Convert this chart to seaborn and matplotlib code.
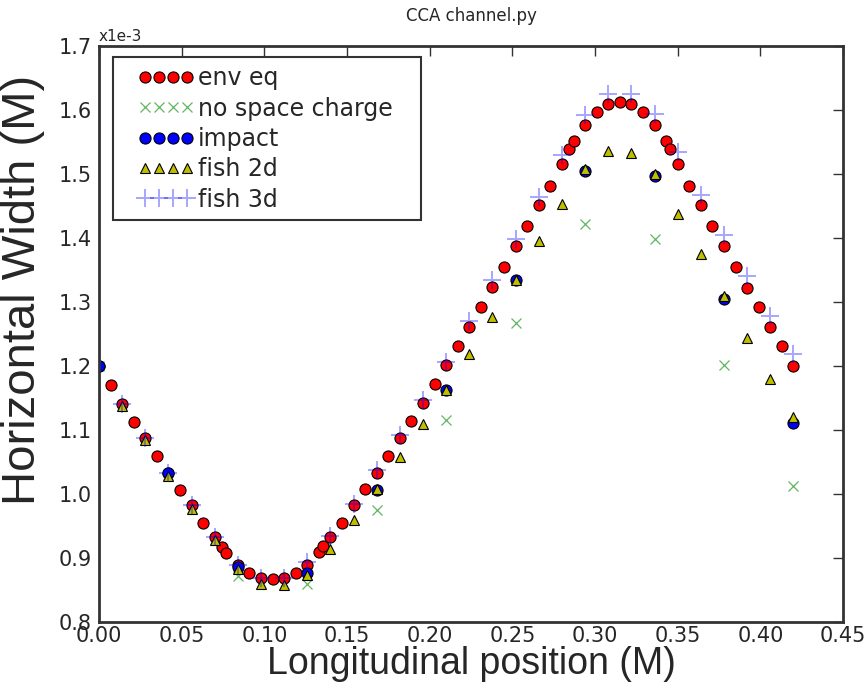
import numpy as np
import pandas as pd
import matplotlib
matplotlib.use("Agg")
import matplotlib.pyplot as plt
from matplotlib import font_manager
from matplotlib.patches import Rectangle
import seaborn as sns

# env eq (fine sampling), widths in units of 1e-3 m
env_z = [0.000, 0.007, 0.014, 0.021, 0.028, 0.035, 0.042, 0.049, 0.056, 0.063,
         0.070, 0.0746, 0.0768, 0.084, 0.091, 0.098, 0.105, 0.112, 0.119, 0.126,
         0.1333, 0.1357, 0.140, 0.147, 0.154, 0.161, 0.168, 0.175, 0.182, 0.189,
         0.196, 0.203, 0.210, 0.217, 0.224, 0.231, 0.238, 0.245, 0.252, 0.259,
         0.266, 0.273, 0.280, 0.2845, 0.2873, 0.294, 0.301, 0.308, 0.315, 0.322,
         0.329, 0.336, 0.343, 0.3455, 0.350, 0.357, 0.364, 0.371, 0.378, 0.385,
         0.392, 0.399, 0.406, 0.413, 0.420]
env_w = [1.200, 1.171, 1.141, 1.113, 1.0875, 1.059, 1.032, 1.006, 0.982, 0.955,
         0.933, 0.917, 0.908, 0.889, 0.876, 0.869, 0.867, 0.869, 0.876, 0.889,
         0.909, 0.918, 0.933, 0.955, 0.982, 1.007, 1.033, 1.059, 1.088, 1.114,
         1.142, 1.1725, 1.201, 1.231, 1.261, 1.292, 1.323, 1.355, 1.387, 1.418,
         1.451, 1.482, 1.516, 1.539, 1.551, 1.577, 1.597, 1.609, 1.6125, 1.609,
         1.597, 1.577, 1.551, 1.539, 1.516, 1.482, 1.451, 1.418, 1.387, 1.355,
         1.3225, 1.292, 1.261, 1.231, 1.200]

# no space charge and impact (coarse sampling)
coarse_z = [0.000, 0.042, 0.084, 0.126, 0.168, 0.210, 0.252, 0.294, 0.336, 0.378, 0.420]
nosc_w = [1.200, 1.030, 0.872, 0.859, 0.9756, 1.1163, 1.2672, 1.4214, 1.399, 1.2011, 1.012]
impact_w = [1.200, 1.033, 0.886, 0.8766, 1.006, 1.162, 1.334, 1.505, 1.4964, 1.3053, 1.1109]

# fish 2d / fish 3d
fish_z = [0.014, 0.028, 0.042, 0.056, 0.070, 0.084, 0.098, 0.112, 0.126, 0.140,
          0.154, 0.168, 0.182, 0.196, 0.210, 0.224, 0.238, 0.252, 0.266, 0.280,
          0.294, 0.308, 0.322, 0.336, 0.350, 0.364, 0.378, 0.392, 0.406, 0.420]
fish2d_w = [1.1375, 1.084, 1.0277, 0.976, 0.9277, 0.882, 0.859, 0.857, 0.873, 0.9147,
            0.960, 1.0073, 1.0578, 1.110, 1.1631, 1.2183, 1.2766, 1.335, 1.395, 1.4532,
            1.508, 1.5355, 1.5328, 1.500, 1.4381, 1.375, 1.310, 1.2444, 1.1803, 1.1203]
fish3d_w = [1.141, 1.088, 1.032, 0.982, 0.933, 0.889, 0.869, 0.869, 0.893, 0.935,
            0.985, 1.037, 1.092, 1.147, 1.206, 1.270, 1.334, 1.399, 1.464, 1.529,
            1.592, 1.6245, 1.6245, 1.594, 1.534, 1.4667, 1.404, 1.340, 1.278, 1.218]


def pick_font(names, fallback="DejaVu Sans"):
    have = {f.name for f in font_manager.fontManager.ttflist}
    for n in names:
        if n in have:
            return n
    return fallback


def main():
    sns.set_style("white")
    plt.rcParams["font.family"] = ["DejaVu Sans"]
    label_font = pick_font(["Liberation Sans", "Arial"])
    narrow_font = pick_font(["Liberation Sans Narrow", "DejaVu Sans"])

    fig = plt.figure(figsize=(8.67, 6.99), dpi=100)
    ax = fig.add_axes([0.1142, 0.1102, 0.8581, 0.8240])

    series = [
        (env_z, env_w, "env eq", dict(marker="o", color="r", markersize=8,
                                      markeredgecolor="black", markeredgewidth=0.8)),
        (coarse_z, nosc_w, "no space charge", dict(marker="x", color="g", markersize=7,
                                                    markeredgecolor="#2e9e2e",
                                                    markeredgewidth=0.9, alpha=0.75)),
        (coarse_z, impact_w, "impact", dict(marker="o", color="b", markersize=8,
                                            markeredgecolor="black", markeredgewidth=0.8)),
        (fish_z, fish2d_w, "fish 2d", dict(marker="^", color="y", markersize=7,
                                           markeredgecolor="black", markeredgewidth=0.8)),
        (fish_z, fish3d_w, "fish 3d", dict(marker="+", color="b", markersize=13,
                                           markeredgecolor="b",
                                           markeredgewidth=1.4, alpha=0.35)),
    ]
    for z, w, name, style in series:
        df = pd.DataFrame({"z": z, "w": w})
        sns.lineplot(data=df, x="z", y="w", estimator=None, sort=False,
                     linestyle="none", label=name, ax=ax, **style)

    ax.set_xlim(0, 0.45)
    ax.set_ylim(0.8, 1.7)
    ax.set_xticks(np.arange(0, 0.451, 0.05))
    ax.set_xticklabels(["%.2f" % v for v in np.arange(0, 0.451, 0.05)],
                       fontsize=15, family=narrow_font)
    ax.set_yticks(np.arange(0.8, 1.701, 0.1))
    ax.set_yticklabels(["%.1f" % v for v in np.arange(0.8, 1.701, 0.1)], fontsize=15)
    ax.tick_params(direction="in", length=7, width=1, top=True, right=True,
                   color="#333333")
    ax.tick_params(axis="y", pad=5)
    ax.tick_params(axis="x", pad=3)
    for s in ax.spines.values():
        s.set_color("#333333")
        s.set_linewidth(2)

    ax.set_xlabel("Longitudinal position (M)", fontsize=27, family=label_font, labelpad=0)
    ax.set_ylabel("Horizontal Width (M)", fontsize=34, family=label_font)
    ax.yaxis.set_label_coords(-0.073, 0.576)
    ax.set_title("CCA channel.py", fontsize=12, pad=18)
    ax.text(0.0, 1.004, "x1e-3", transform=ax.transAxes, fontsize=11,
            ha="left", va="bottom")

    # legend entries without frame, frame drawn as a wider box like the old style
    leg = ax.legend(loc="upper left", numpoints=4, fontsize=17, frameon=False,
                    handlelength=2.4, handletextpad=0.15, labelspacing=0.27,
                    borderpad=0, borderaxespad=0, bbox_to_anchor=(0.052, 0.965))
    ax.add_patch(Rectangle((0.0188, 0.698), 0.414, 0.283, transform=ax.transAxes,
                           facecolor="none", edgecolor="#333333", linewidth=1.5,
                           zorder=leg.get_zorder()))

    fig.savefig("out.png", dpi=100)


if __name__ == "__main__":
    main()
